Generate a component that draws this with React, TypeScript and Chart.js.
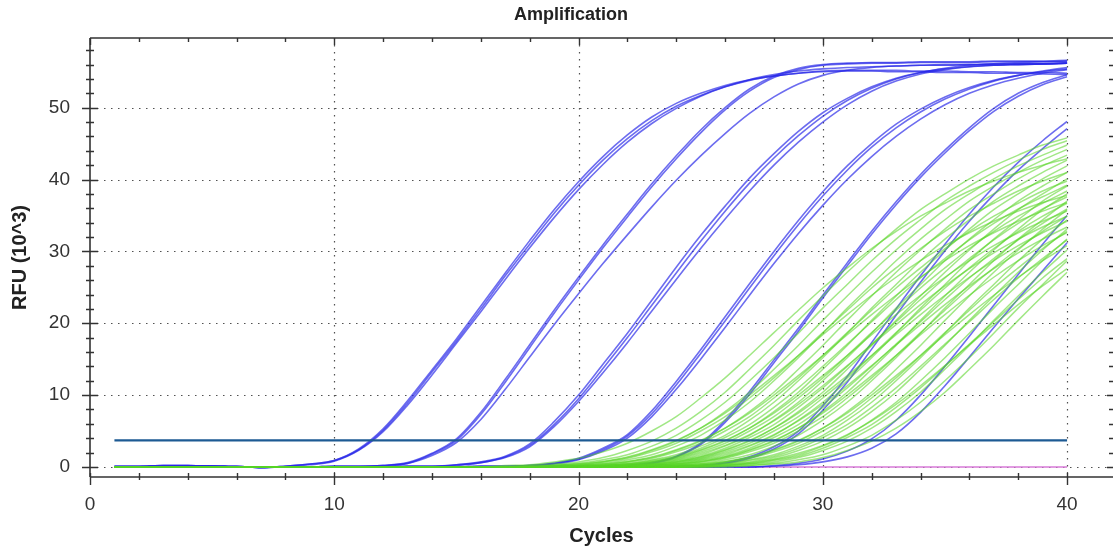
import React, { useEffect, useRef } from "react";
import { Chart, registerables } from "chart.js";

Chart.register(...registerables);

// ---------- data ----------
const cycles = [1, 2, 3, 4, 5, 6, 7, 8, 9, 10, 11, 12, 13, 14, 15, 16, 17, 18, 19, 20, 21, 22, 23, 24, 25, 26, 27, 28, 29, 30, 31, 32, 33, 34, 35, 36, 37, 38, 39, 40];

const chartTitle = "Amplification";
const thresholdRfu = 3.7;
const xTickValues = [0, 10, 20, 30, 40];
const yTickValues = [0, 10, 20, 30, 40, 50];

// Standards (blue), RFU x10^3 per cycle
const std1a = [0.1,0.1,0.2,0.2,0.1,0.1,-0.1,0.1,0.4,0.9, 2.5,5.3,9.2,13.5,17.8,22.4,27.0,31.5,35.8,39.7, 43.2,46.2,48.7,50.6,52.0,53.1,53.9,54.4,54.8,55.0, 55.1,55.1,55.0,55.0,54.9,54.9,54.8,54.8,54.7,54.6];
const std1b = [0.1,0.1,0.2,0.2,0.1,0.1,-0.1,0.1,0.4,0.9, 2.4,5.1,8.9,13.2,17.5,22.0,26.6,31.0,35.3,39.2, 42.7,45.7,48.2,50.2,51.7,52.9,53.8,54.4,54.8,55.1, 55.2,55.2,55.2,55.1,55.1,55.0,55.0,54.9,54.9,54.8];
const std1c = [0.1,0.1,0.2,0.2,0.1,0.1,-0.1,0.1,0.3,0.8, 2.3,4.9,8.6,12.8,17.2,21.6,26.1,30.5,34.7,38.6, 42.1,45.2,47.8,49.9,51.6,52.9,53.9,54.6,55.1,55.4, 55.6,55.7,55.8,55.9,55.9,56.0,56.0,56.1,56.1,56.2];
const std2a = [0,0,0.1,0.1,0.1,0,0,0,0,0.1, 0.1,0.2,0.6,1.9,3.9,7.6,12.2,17.0,21.8,26.4, 30.9,35.2,39.4,43.3,46.9,50.0,52.6,54.4,55.5,56.0, 56.2,56.3,56.3,56.4,56.4,56.4,56.5,56.5,56.5,56.6];
const std2b = [0,0,0.1,0.1,0.1,0,0,0,0,0.1, 0.1,0.2,0.5,1.8,3.7,7.3,11.8,16.6,21.4,26.0, 30.5,34.8,39.0,42.9,46.5,49.7,52.3,54.2,55.3,55.9, 56.1,56.2,56.2,56.3,56.3,56.3,56.4,56.4,56.4,56.4];
const std2c = [0,0,0.1,0.1,0.1,0,0,0,0,0.1, 0.1,0.2,0.5,1.6,3.4,6.6,10.8,15.3,19.8,24.1, 28.3,32.3,36.2,39.9,43.3,46.4,49.2,51.5,53.3,54.5, 55.2,55.6,55.8,55.9,56.0,56.0,56.1,56.1,56.1,56.2];
const std3a = [0,0,0,0.1,0.1,0,0,0,0,0, 0,0,0.1,0.1,0.3,0.7,1.5,3.2,6.3,10.0, 14.3,18.6,23.2,27.8,32.2,36.3,40.2,43.6,46.7,49.3, 51.3,52.9,54.1,54.9,55.4,55.7,55.9,56.0,56.1,56.2];
const std3b = [0,0,0,0.1,0.1,0,0,0,0,0, 0,0,0.1,0.1,0.3,0.6,1.4,3.0,5.9,9.5, 13.7,18.0,22.5,27.0,31.4,35.6,39.5,43.0,46.1,48.8, 51.0,52.7,54.0,54.9,55.5,55.9,56.1,56.3,56.4,56.5];
const std3c = [0,0,0,0.1,0.1,0,0,0,0,0, 0,0,0.1,0.1,0.2,0.6,1.3,2.8,5.6,9.1, 13.1,17.3,21.7,26.1,30.4,34.5,38.4,42.0,45.2,48.0, 50.4,52.3,53.7,54.7,55.3,55.7,55.9,56.0,56.1,56.2];
const std4a = [0,0,0,0,0,0,0,0,0,0, 0,0,0,0,0,0.1,0.1,0.2,0.5,1.2, 2.6,4.5,7.8,11.9,16.3,20.9,25.5,30.0,34.3,38.3, 41.9,45.0,47.7,49.8,51.5,52.8,53.8,54.5,55.0,55.4];
const std4b = [0,0,0,0,0,0,0,0,0,0, 0,0,0,0,0,0.1,0.1,0.2,0.5,1.1, 2.4,4.3,7.4,11.4,15.8,20.3,24.9,29.4,33.7,37.7, 41.3,44.5,47.2,49.4,51.2,52.6,53.7,54.5,55.1,55.6];
const std4c = [0,0,0,0,0,0,0,0,0,0, 0,0,0,0,0,0.1,0.1,0.2,0.4,1.0, 2.2,4.0,7.0,10.8,15.0,19.4,23.9,28.3,32.5,36.4, 40.0,43.2,46.0,48.4,50.4,52.0,53.2,54.1,54.8,55.3];
const std5a = [0,0,0,0,0,0,0,0,0,0, 0,0,0,0,0,0,0,0,0.1,0.1, 0.1,0.2,0.6,1.5,3.3,6.5,10.5,14.9,19.3,23.9, 28.4,32.8,36.9,40.7,44.1,47.2,49.9,52.0,53.5,54.6];
const std5b = [0,0,0,0,0,0,0,0,0,0, 0,0,0,0,0,0,0,0,0.1,0.1, 0.1,0.2,0.5,1.4,3.1,6.2,10.1,14.5,18.9,23.5, 28.0,32.4,36.5,40.3,43.7,46.8,49.5,51.6,53.2,54.3];
const std6a = [0,0,0,0,0,0,0,0,0,0, 0,0,0,0,0,0,0,0,0,0, 0,0,0,0.1,0.2,0.6,1.4,2.8,5.0,8.5, 12.6,17.3,22.0,26.6,31.0,35.2,39.0,42.4,45.4,48.1];
const std6b = [0,0,0,0,0,0,0,0,0,0, 0,0,0,0,0,0,0,0,0,0, 0,0,0,0.1,0.2,0.5,1.2,2.5,4.6,7.9, 11.8,16.4,21.1,25.7,30.1,34.2,37.9,41.3,44.3,47.1];
const std7a = [0,0,0,0,0,0,0,0,0,0, 0,0,0,0,0,0,0,0,0,0, 0,0,0,0,0,0,0,0.2,0.5,1.1, 2.2,3.9,6.5,10.0,14.0,18.2,22.5,26.8,31.0,35.0];
const std7b = [0,0,0,0,0,0,0,0,0,0, 0,0,0,0,0,0,0,0,0,0, 0,0,0,0,0,0,0,0.1,0.3,0.7, 1.4,2.6,4.6,7.6,11.3,15.3,19.4,23.4,27.3,31.2];

const standards = [std1a, std1b, std1c, std2a, std2b, std2c, std3a, std3b, std3c, std4a, std4b, std4c, std5a, std5b, std6a, std6b, std7a, std7b];

// Unknown samples (green)
const samples = [
  [0,0,0,0,0,0,0,0,0,0, 0,0,0,0,0,0, 0.2,0.3,0.7,1.2,2.1,3.3,5.0,7.0,9.6,12.4,15.5,18.7,21.8,24.9,27.7,30.4,32.8,34.9,36.7,38.4,39.8,41.0,42.0,42.9],
  [0,0,0,0,0,0,0,0,0,0, 0,0,0,0,0,0,0, 0.2,0.4,0.7,1.3,2.3,3.6,5.4,7.7,10.4,13.6,16.9,20.4,23.8,27.1,30.2,33.1,35.8,38.0,40.1,41.9,43.4,44.8,45.8],
  [0,0,0,0,0,0,0,0,0,0, 0,0,0,0,0,0,0, 0.1,0.2,0.4,0.8,1.4,2.4,3.7,5.4,7.5,10.0,12.7,15.5,18.4,21.2,23.9,26.4,28.7,30.8,32.6,34.2,35.6,36.8,37.8],
  [0,0,0,0,0,0,0,0,0,0, 0,0,0,0,0,0,0, 0.1,0.2,0.5,1.0,1.7,2.9,4.4,6.5,9.0,12.0,15.2,18.6,22.1,25.4,28.7,31.7,34.4,37.0,39.1,41.0,42.7,44.2,45.4],
  [0,0,0,0,0,0,0,0,0,0, 0,0,0,0,0,0,0,0, 0.2,0.3,0.7,1.2,2.1,3.3,5.0,7.0,9.6,12.4,15.5,18.7,21.8,24.9,27.7,30.4,32.8,34.9,36.7,38.4,39.8,41.0],
  [0,0,0,0,0,0,0,0,0,0, 0,0,0,0,0,0,0,0, 0.1,0.2,0.4,0.8,1.4,2.4,3.7,5.4,7.5,10.0,12.7,15.5,18.4,21.2,23.9,26.4,28.7,30.8,32.6,34.2,35.6,36.8],
  [0,0,0,0,0,0,0,0,0,0, 0,0,0,0,0,0,0,0, 0.1,0.2,0.5,1.0,1.7,2.9,4.4,6.5,9.0,12.0,15.2,18.6,22.1,25.4,28.7,31.7,34.4,37.0,39.1,41.0,42.7,44.2],
  [0,0,0,0,0,0,0,0,0,0, 0,0,0,0,0,0,0,0, 0.2,0.4,0.7,1.3,2.3,3.6,5.4,7.7,10.4,13.6,16.9,20.4,23.8,27.1,30.2,33.1,35.8,38.0,40.1,41.9,43.4,44.8],
  [0,0,0,0,0,0,0,0,0,0, 0,0,0,0,0,0,0,0,0, 0.2,0.3,0.7,1.2,2.1,3.3,5.0,7.0,9.6,12.4,15.5,18.7,21.8,24.9,27.7,30.4,32.8,34.9,36.7,38.4,39.8],
  [0,0,0,0,0,0,0,0,0,0, 0,0,0,0,0,0,0,0,0, 0.2,0.4,0.7,1.3,2.3,3.6,5.4,7.7,10.4,13.6,16.9,20.4,23.8,27.1,30.2,33.1,35.8,38.0,40.1,41.9,43.4],
  [0,0,0,0,0,0,0,0,0,0, 0,0,0,0,0,0,0,0,0, 0.1,0.2,0.4,0.8,1.4,2.4,3.7,5.4,7.5,10.0,12.7,15.5,18.4,21.2,23.9,26.4,28.7,30.8,32.6,34.2,35.6],
  [0,0,0,0,0,0,0,0,0,0, 0,0,0,0,0,0,0,0,0, 0.1,0.2,0.4,0.9,1.5,2.6,4.1,5.9,8.3,11.0,14.0,17.1,20.2,23.3,26.3,29.0,31.6,33.9,35.9,37.6,39.2],
  [0,0,0,0,0,0,0,0,0,0, 0,0,0,0,0,0,0,0,0, 0.1,0.2,0.5,1.0,1.7,2.9,4.4,6.5,9.0,12.0,15.2,18.6,22.1,25.4,28.7,31.7,34.4,37.0,39.1,41.0,42.7],
  [0,0,0,0,0,0,0,0,0,0, 0,0,0,0,0,0,0,0,0,0, 0.2,0.3,0.6,1.1,1.9,3.0,4.5,6.4,8.7,11.3,14.1,17.0,19.8,22.6,25.2,27.6,29.8,31.7,33.4,34.9],
  [0,0,0,0,0,0,0,0,0,0, 0,0,0,0,0,0,0,0,0,0, 0.2,0.3,0.7,1.2,2.1,3.3,5.0,7.0,9.6,12.4,15.5,18.7,21.8,24.9,27.7,30.4,32.8,34.9,36.7,38.4],
  [0,0,0,0,0,0,0,0,0,0, 0,0,0,0,0,0,0,0,0,0, 0.2,0.4,0.7,1.3,2.3,3.6,5.4,7.7,10.4,13.6,16.9,20.4,23.8,27.1,30.2,33.1,35.8,38.0,40.1,41.9],
  [0,0,0,0,0,0,0,0,0,0, 0,0,0,0,0,0,0,0,0,0, 0.1,0.2,0.4,0.8,1.4,2.4,3.7,5.4,7.5,10.0,12.7,15.5,18.4,21.2,23.9,26.4,28.7,30.8,32.6,34.2],
  [0,0,0,0,0,0,0,0,0,0, 0,0,0,0,0,0,0,0,0,0, 0.1,0.2,0.4,0.9,1.5,2.6,4.1,5.9,8.3,11.0,14.0,17.1,20.2,23.3,26.3,29.0,31.6,33.9,35.9,37.6],
  [0,0,0,0,0,0,0,0,0,0, 0,0,0,0,0,0,0,0,0,0, 0.1,0.2,0.5,1.0,1.7,2.9,4.4,6.5,9.0,12.0,15.2,18.6,22.1,25.4,28.7,31.7,34.4,37.0,39.1,41.0],
  [0,0,0,0,0,0,0,0,0,0, 0,0,0,0,0,0,0,0,0,0, 0, 0.2,0.3,0.7,1.2,2.1,3.3,5.0,7.0,9.6,12.4,15.5,18.7,21.8,24.9,27.7,30.4,32.8,34.9,36.7],
  [0,0,0,0,0,0,0,0,0,0, 0,0,0,0,0,0,0,0,0,0, 0, 0.2,0.4,0.7,1.3,2.3,3.6,5.4,7.7,10.4,13.6,16.9,20.4,23.8,27.1,30.2,33.1,35.8,38.0,40.1],
  [0,0,0,0,0,0,0,0,0,0, 0,0,0,0,0,0,0,0,0,0, 0, 0.2,0.3,0.6,1.1,1.9,3.0,4.5,6.4,8.7,11.3,14.1,17.0,19.8,22.6,25.2,27.6,29.8,31.7,33.4],
  [0,0,0,0,0,0,0,0,0,0, 0,0,0,0,0,0,0,0,0,0, 0, 0.1,0.2,0.4,0.8,1.4,2.4,3.7,5.4,7.5,10.0,12.7,15.5,18.4,21.2,23.9,26.4,28.7,30.8,32.6],
  [0,0,0,0,0,0,0,0,0,0, 0,0,0,0,0,0,0,0,0,0, 0, 0.1,0.2,0.4,0.9,1.5,2.6,4.1,5.9,8.3,11.0,14.0,17.1,20.2,23.3,26.3,29.0,31.6,33.9,35.9],
  [0,0,0,0,0,0,0,0,0,0, 0,0,0,0,0,0,0,0,0,0, 0, 0.1,0.2,0.5,1.0,1.7,2.9,4.4,6.5,9.0,12.0,15.2,18.6,22.1,25.4,28.7,31.7,34.4,37.0,39.1],
  [0,0,0,0,0,0,0,0,0,0, 0,0,0,0,0,0,0,0,0,0, 0,0, 0.2,0.3,0.7,1.2,2.1,3.3,5.0,7.0,9.6,12.4,15.5,18.7,21.8,24.9,27.7,30.4,32.8,34.9],
  [0,0,0,0,0,0,0,0,0,0, 0,0,0,0,0,0,0,0,0,0, 0,0, 0.2,0.4,0.7,1.3,2.3,3.6,5.4,7.7,10.4,13.6,16.9,20.4,23.8,27.1,30.2,33.1,35.8,38.0],
  [0,0,0,0,0,0,0,0,0,0, 0,0,0,0,0,0,0,0,0,0, 0,0, 0.1,0.2,0.4,0.8,1.4,2.4,3.7,5.4,7.5,10.0,12.7,15.5,18.4,21.2,23.9,26.4,28.7,30.8],
  [0,0,0,0,0,0,0,0,0,0, 0,0,0,0,0,0,0,0,0,0, 0,0, 0.1,0.2,0.5,1.0,1.7,2.9,4.4,6.5,9.0,12.0,15.2,18.6,22.1,25.4,28.7,31.7,34.4,37.0],
  [0,0,0,0,0,0,0,0,0,0, 0,0,0,0,0,0,0,0,0,0, 0,0,0, 0.2,0.3,0.7,1.2,2.1,3.3,5.0,7.0,9.6,12.4,15.5,18.7,21.8,24.9,27.7,30.4,32.8],
  [0,0,0,0,0,0,0,0,0,0, 0,0,0,0,0,0,0,0,0,0, 0,0,0, 0.2,0.4,0.7,1.3,2.3,3.6,5.4,7.7,10.4,13.6,16.9,20.4,23.8,27.1,30.2,33.1,35.8],
  [0,0,0,0,0,0,0,0,0,0, 0,0,0,0,0,0,0,0,0,0, 0,0,0, 0.1,0.2,0.4,0.9,1.5,2.6,4.1,5.9,8.3,11.0,14.0,17.1,20.2,23.3,26.3,29.0,31.6],
  [0,0,0,0,0,0,0,0,0,0, 0,0,0,0,0,0,0,0,0,0, 0,0,0, 0.1,0.2,0.5,1.0,1.7,2.9,4.4,6.5,9.0,12.0,15.2,18.6,22.1,25.4,28.7,31.7,34.4],
  [0,0,0,0,0,0,0,0,0,0, 0,0,0,0,0,0,0,0,0,0, 0,0,0,0, 0.2,0.4,0.7,1.3,2.3,3.6,5.4,7.7,10.4,13.6,16.9,20.4,23.8,27.1,30.2,33.1],
  [0,0,0,0,0,0,0,0,0,0, 0,0,0,0,0,0,0,0,0,0, 0,0,0,0, 0.2,0.3,0.6,1.1,1.9,3.0,4.5,6.4,8.7,11.3,14.1,17.0,19.8,22.6,25.2,27.6],
  [0,0,0,0,0,0,0,0,0,0, 0,0,0,0,0,0,0,0,0,0, 0,0,0,0, 0.1,0.2,0.4,0.9,1.5,2.6,4.1,5.9,8.3,11.0,14.0,17.1,20.2,23.3,26.3,29.0],
  [0,0,0,0,0,0,0,0,0,0, 0,0,0,0,0,0,0,0,0,0, 0,0,0,0, 0.1,0.2,0.5,1.0,1.7,2.9,4.4,6.5,9.0,12.0,15.2,18.6,22.1,25.4,28.7,31.7],
  [0,0,0,0,0,0,0,0,0,0, 0,0,0,0,0,0,0,0,0,0, 0,0,0,0,0, 0.2,0.4,0.7,1.3,2.3,3.6,5.4,7.7,10.4,13.6,16.9,20.4,23.8,27.1,30.2],
  [0,0,0,0,0,0,0,0,0,0, 0,0,0,0,0,0,0,0,0,0, 0,0,0,0,0, 0.1,0.2,0.5,1.0,1.7,2.9,4.4,6.5,9.0,12.0,15.2,18.6,22.1,25.4,28.7],
  [0,0,0,0,0,0,0,0,0,0, 0,0,0,0,0,0,0,0,0,0, 0,0,0,0,0,0, 0.2,0.4,0.7,1.3,2.3,3.6,5.4,7.7,10.4,13.6,16.9,20.4,23.8,27.1],
];

// No-template control (pink)
const ntc = [0,0,0,0,0,0,0,0,0,0, 0,0,0,0,0,0,0,0,0,0, 0,0,0,0,0,0,0,0,0,0, 0,0,0,0,0,0,0,0,0,0];

// ---------- styles ----------
const FONT = "'Liberation Sans', Arial, Helvetica, sans-serif";
const BLUE = "rgba(38, 38, 232, 0.68)";
const GREEN = "rgba(88, 212, 38, 0.56)";
const THRESH = "#1d5a93";
const PINK = "#d77ad7";
const AXIS = "#333333";

const toPoints = (vals: number[]) => vals.map((v, i) => ({ x: cycles[i], y: v }));

const framePlugin = {
  id: "qpcrFrame",
  beforeDatasetsDraw(chart: any) {
    const { ctx, chartArea, scales } = chart;
    const { left, right, top, bottom } = chartArea;
    const xs = scales.x;
    const ys = scales.y;
    ctx.save();
    // dotted grid
    ctx.strokeStyle = "rgba(50,50,50,0.85)";
    ctx.lineWidth = 1.2;
    ctx.setLineDash([1.5, 5.5]);
    xTickValues.forEach((v) => {
      if (v === 0) return;
      const px = Math.round(xs.getPixelForValue(v)) + 0.5;
      ctx.beginPath();
      ctx.moveTo(px, top);
      ctx.lineTo(px, bottom);
      ctx.stroke();
    });
    yTickValues.forEach((v) => {
      const py = Math.round(ys.getPixelForValue(v)) + 0.5;
      ctx.beginPath();
      ctx.moveTo(left, py);
      ctx.lineTo(right, py);
      ctx.stroke();
    });
    ctx.setLineDash([]);
    // axes frame
    ctx.strokeStyle = AXIS;
    ctx.lineWidth = 1.6;
    ctx.beginPath();
    ctx.moveTo(left, top);
    ctx.lineTo(left, bottom);
    ctx.moveTo(left, bottom);
    ctx.lineTo(right, bottom);
    ctx.moveTo(left, top);
    ctx.lineTo(right, top);
    ctx.stroke();
    // tick marks
    ctx.lineWidth = 1.4;
    ctx.beginPath();
    for (let v = 0; v <= 40; v += 2) {
      const major = v % 10 === 0;
      const px = Math.round(xs.getPixelForValue(v)) + 0.5;
      ctx.moveTo(px, bottom - 4);
      ctx.lineTo(px, bottom + (major ? 8 : 3));
      ctx.moveTo(px, top);
      ctx.lineTo(px, top + (major ? 7 : 4));
    }
    for (let v = 0; v <= 58; v += 2) {
      const major = v % 10 === 0;
      const py = Math.round(ys.getPixelForValue(v)) + 0.5;
      ctx.moveTo(left - (major ? 8 : 4), py);
      ctx.lineTo(left + (major ? 8 : 4), py);
      ctx.moveTo(right - (major ? 6 : 4), py);
      ctx.lineTo(right, py);
    }
    ctx.stroke();
    ctx.restore();
  },
  afterDraw(chart: any) {
    const { ctx } = chart;
    ctx.save();
    ctx.fillStyle = "#222";
    ctx.font = "bold 18px " + FONT;
    ctx.textAlign = "center";
    ctx.textBaseline = "middle";
    ctx.fillText(chartTitle, 571, 15);
    ctx.restore();
  },
};

export default function App() {
  const canvasRef = useRef<HTMLCanvasElement | null>(null);

  useEffect(() => {
    if (!canvasRef.current) return;
    Chart.defaults.font.family = FONT;

    const datasets: any[] = [];
    datasets.push({
      label: "Threshold",
      data: [
        { x: cycles[0], y: thresholdRfu },
        { x: cycles[cycles.length - 1], y: thresholdRfu },
      ],
      borderColor: THRESH,
      borderWidth: 2.2,
      pointRadius: 0,
    });
    samples.forEach((s, i) => {
      datasets.push({
        label: "Sample " + (i + 1),
        data: toPoints(s),
        borderColor: GREEN,
        borderWidth: 1.5,
        pointRadius: 0,
        cubicInterpolationMode: "monotone",
      });
    });
    standards.forEach((s, i) => {
      datasets.push({
        label: "Std " + (i + 1),
        data: toPoints(s),
        borderColor: BLUE,
        borderWidth: 1.6,
        pointRadius: 0,
        cubicInterpolationMode: "monotone",
      });
    });
    datasets.push({
      label: "NTC",
      data: toPoints(ntc),
      borderColor: PINK,
      borderWidth: 1.5,
      pointRadius: 0,
    });

    const chart = new Chart(canvasRef.current, {
      type: "line",
      data: { datasets },
      plugins: [framePlugin],
      options: {
        animation: false,
        responsive: false,
        devicePixelRatio: 1,
        layout: { padding: { left: 0, right: 0, top: 38, bottom: 0 } },
        plugins: {
          legend: { display: false },
          tooltip: { enabled: false },
          title: { display: false },
        },
        scales: {
          x: {
            type: "linear",
            min: 0,
            max: 41.88,
            afterBuildTicks: (s: any) => {
              s.ticks = xTickValues.map((v) => ({ value: v }));
            },
            afterFit: (s: any) => {
              s.height = 71;
            },
            grid: { display: false, drawTicks: false },
            border: { display: false },
            ticks: {
              color: "#333",
              font: { size: 19, family: FONT },
              padding: 16,
              maxRotation: 0,
              autoSkip: false,
              callback: (v: any) => String(v),
            },
            title: {
              display: true,
              text: "Cycles",
              color: "#222",
              font: { size: 20, weight: "bold", family: FONT },
              padding: { top: 0, bottom: 0 },
            },
          },
          y: {
            type: "linear",
            min: -1.4,
            max: 59.7,
            afterBuildTicks: (s: any) => {
              s.ticks = yTickValues.map((v) => ({ value: v }));
            },
            afterFit: (s: any) => {
              s.width = 90;
            },
            grid: { display: false, drawTicks: false },
            border: { display: false },
            ticks: {
              color: "#333",
              font: { size: 19, family: FONT },
              padding: 20,
              autoSkip: false,
              callback: (v: any) => String(v),
            },
            title: {
              display: true,
              text: "RFU (10^3)",
              color: "#222",
              font: { size: 20, weight: "bold", family: FONT },
              padding: { top: 8, bottom: 0 },
            },
          },
        },
      } as any,
    });
    return () => chart.destroy();
  }, []);

  return (
    <div style={{ position: "absolute", left: 0, top: 0, width: 1113, height: 548, background: "#fff" }}>
      <canvas ref={canvasRef} width={1113} height={548} />
    </div>
  );
}
